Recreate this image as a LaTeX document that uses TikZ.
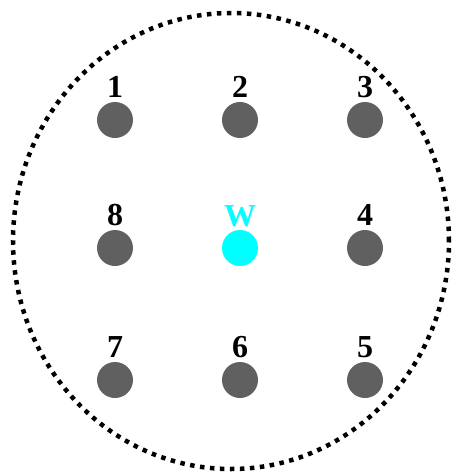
\documentclass[tikz,border=0pt]{standalone}
\usepackage{fontspec}
\setmainfont{Liberation Serif}
\usepackage{xcolor}
\definecolor{dotgray}{RGB}{96,96,96}
\definecolor{wcyan}{RGB}{0,255,255}
\usetikzlibrary{positioning}
\tikzset{
  spot/.style={circle, fill=#1, minimum size=36pt, inner sep=0pt},
  numlbl/.style={font=\fontsize{32}{32}\selectfont\bfseries, inner sep=0pt},
  rim/.style={line width=4.5pt, dash pattern=on 4.5pt off 5.5pt},
}
\begin{document}
\begin{tikzpicture}[x=1pt, y=-1pt]
\useasboundingbox (0,0) rectangle (453,475);

% outer boundary
\draw[rim] (231,241) ellipse [x radius=218pt, y radius=228pt];

% neighbours
\node[spot=dotgray] (p1) at (115,120) {};
\node[spot=dotgray] (p2) at (240,120) {};
\node[spot=dotgray] (p3) at (365,120) {};
\node[spot=dotgray] (p4) at (365,248) {};
\node[spot=dotgray] (p5) at (365,380) {};
\node[spot=dotgray] (p6) at (240,380) {};
\node[spot=dotgray] (p7) at (115,380) {};
\node[spot=dotgray] (p8) at (115,248) {};

% centre
\node[spot=wcyan] (pw) at (240,248) {};

% labels
\node[numlbl, above=4pt of p1] (l1) {1};
\node[numlbl, above=4pt of p2] (l2) {2};
\node[numlbl, above=4pt of p3] (l3) {3};
\node[numlbl, above=4pt of p4] (l4) {4};
\node[numlbl, above=4pt of p5] (l5) {5};
\node[numlbl, above=4pt of p6] (l6) {6};
\node[numlbl, above=4pt of p7] (l7) {7};
\node[numlbl, above=4pt of p8] (l8) {8};
\node[numlbl, text=wcyan, above=3pt of pw] (lw) {W};

\end{tikzpicture}
\end{document}
